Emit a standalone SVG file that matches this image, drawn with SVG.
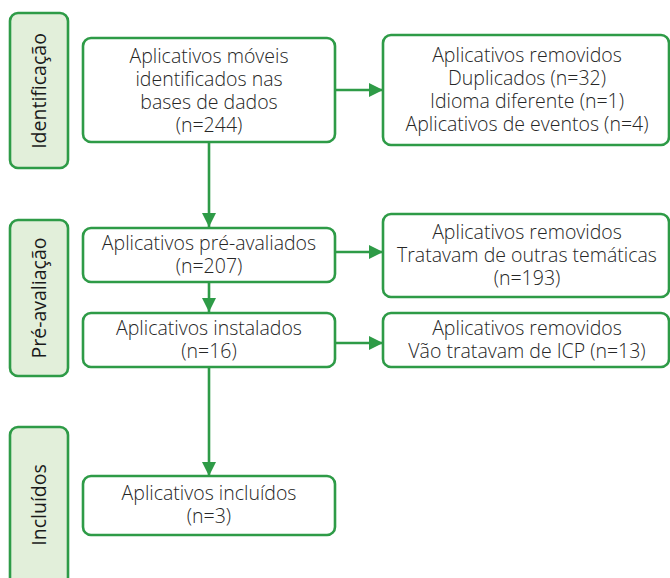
<svg xmlns="http://www.w3.org/2000/svg" width="670" height="578" viewBox="0 0 670 578">
<defs>
<style>
.stage{fill:#e2efda;stroke:#2e9b47;stroke-width:2.6}
.box{fill:#ffffff;stroke:#2e9b47;stroke-width:2.6}
.t{font-family:"Open Sans","Noto Sans","DejaVu Sans",sans-serif;font-size:19.5px;font-weight:300;fill:#262626;text-anchor:middle}
.st{font-family:"Open Sans","Noto Sans","DejaVu Sans",sans-serif;font-size:19.5px;font-weight:400;fill:#1a1a1a;text-anchor:middle}
.c{stroke:#2e9b47;stroke-width:2.6;fill:none}
</style>
<marker id="ah" markerWidth="14" markerHeight="14" viewBox="0 0 14 14" refX="14" refY="7" orient="auto" markerUnits="userSpaceOnUse">
<path d="M0,0 L14,7 L0,14 Z" fill="#2e9b47"/>
</marker>
</defs>
<rect width="670" height="578" fill="#ffffff"/>

<g id="stage-identificacao">
<rect class="stage" x="10" y="13" width="58" height="155" rx="8"/>
<text class="st" transform="translate(46,91) rotate(-90)">Identificação</text>
</g>
<g id="stage-preavaliacao">
<rect class="stage" x="10" y="220" width="58" height="156" rx="8"/>
<text class="st" transform="translate(46,298) rotate(-90)">Pré-avaliação</text>
</g>
<g id="stage-incluidos">
<rect class="stage" x="10" y="427" width="58" height="170" rx="8"/>
<text class="st" transform="translate(46,505) rotate(-90)">Incluídos</text>
</g>

<g id="connectors">
<line class="c" x1="335" y1="90" x2="383" y2="90" marker-end="url(#ah)"/>
<line class="c" x1="209" y1="142" x2="209" y2="227" marker-end="url(#ah)"/>
<line class="c" x1="335" y1="252" x2="383" y2="252" marker-end="url(#ah)"/>
<line class="c" x1="209" y1="282" x2="209" y2="312" marker-end="url(#ah)"/>
<line class="c" x1="335" y1="343" x2="383" y2="343" marker-end="url(#ah)"/>
<line class="c" x1="209" y1="367" x2="209" y2="476" marker-end="url(#ah)"/>
</g>

<g id="n-identificados">
<rect class="box" x="83" y="38" width="252" height="104" rx="8"/>
<text class="t" x="209" y="63">Aplicativos móveis</text>
<text class="t" x="209" y="86">identificados nas</text>
<text class="t" x="209" y="109">bases de dados</text>
<text class="t" x="209" y="132">(n=244)</text>
</g>
<g id="n-removidos1">
<rect class="box" x="383" y="35" width="286" height="110" rx="8"/>
<text class="t" x="527" y="62">Aplicativos removidos</text>
<text class="t" x="527" y="85">Duplicados (n=32)</text>
<text class="t" x="527" y="108">Idioma diferente (n=1)</text>
<text class="t" x="527" y="131">Aplicativos de eventos (n=4)</text>
</g>
<g id="n-preavaliados">
<rect class="box" x="83" y="228" width="252" height="54" rx="8"/>
<text class="t" x="209" y="250">Aplicativos pré-avaliados</text>
<text class="t" x="209" y="273">(n=207)</text>
</g>
<g id="n-removidos2">
<rect class="box" x="383" y="214" width="286" height="83" rx="8"/>
<text class="t" x="527" y="239">Aplicativos removidos</text>
<text class="t" x="527" y="262">Tratavam de outras temáticas</text>
<text class="t" x="527" y="285">(n=193)</text>
</g>
<g id="n-instalados">
<rect class="box" x="83" y="313" width="252" height="54" rx="8"/>
<text class="t" x="209" y="335">Aplicativos instalados</text>
<text class="t" x="209" y="358">(n=16)</text>
</g>
<g id="n-removidos3">
<rect class="box" x="383" y="313" width="286" height="54" rx="8"/>
<text class="t" x="527" y="335">Aplicativos removidos</text>
<text class="t" x="527" y="358">Vão tratavam de ICP (n=13)</text>
</g>
<g id="n-incluidos">
<rect class="box" x="83" y="476" width="252" height="59" rx="8"/>
<text class="t" x="209" y="500">Aplicativos incluídos</text>
<text class="t" x="209" y="523">(n=3)</text>
</g>
</svg>
